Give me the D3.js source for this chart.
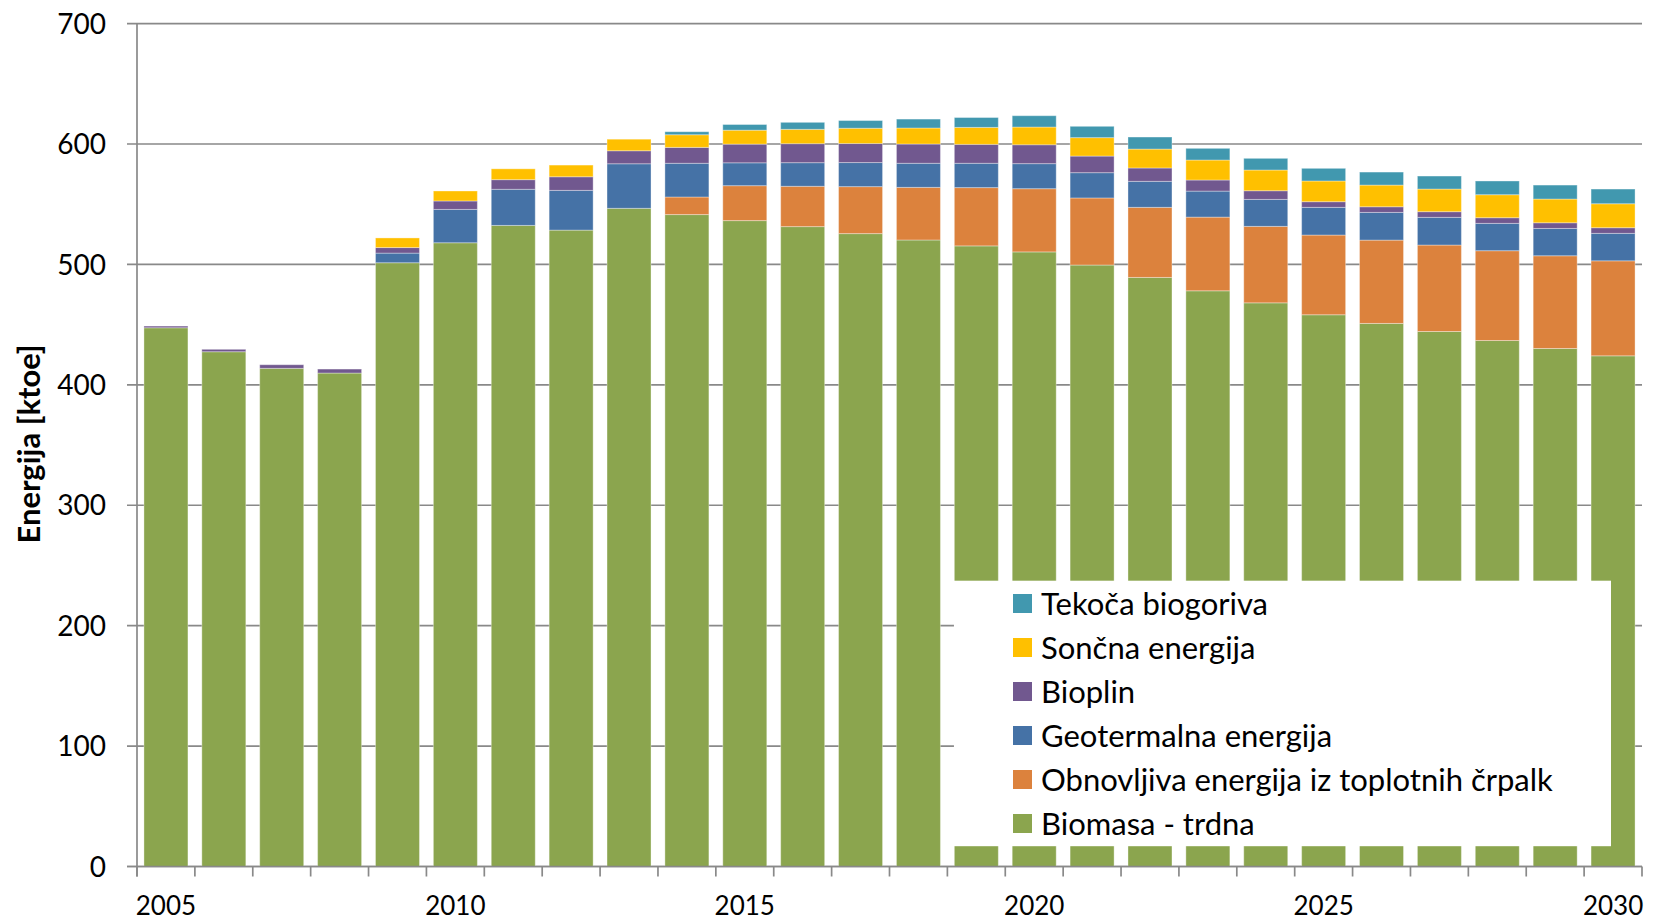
<!DOCTYPE html>
<html>
<head>
<meta charset="utf-8">
<script src="https://cdn.jsdelivr.net/npm/d3@7"></script>
<style>
  html, body { margin: 0; padding: 0; background: #fff; }
  svg { display: block; }
  text { font-family: Lato, "Open Sans", sans-serif; fill: #000; }
</style>
</head>
<body>
<svg id="chart" width="1659" height="921"></svg>
<script>
const years = d3.range(2005, 2031);
const tickYears = [2005, 2010, 2015, 2020, 2025, 2030];
const yTicks = [0, 100, 200, 300, 400, 500, 600, 700];

const biomasa     = [447.4, 427.5, 413.7, 409.8, 501.4, 518.0, 532.4, 528.5, 546.6, 541.4, 536.4, 531.4, 525.6, 520.3, 515.4, 510.4, 499.5, 489.2, 478.1, 468.1, 458.2, 451.0, 444.3, 436.8, 430.2, 424.1];
const toplotne    = [0, 0, 0, 0, 0, 0, 0, 0, 0, 14.6, 29.0, 33.5, 39.0, 43.7, 48.4, 52.5, 55.7, 58.2, 61.2, 63.5, 66.2, 69.2, 71.8, 74.6, 77.0, 78.9];
const geotermalna = [0, 0, 0, 0, 8.0, 27.7, 30.0, 33.0, 37.0, 28.0, 19.0, 19.6, 20.0, 20.0, 20.2, 20.8, 21.0, 21.6, 21.6, 22.4, 23.0, 23.0, 23.0, 22.7, 22.7, 22.8];
const bioplin     = [1.4, 2.0, 3.0, 3.3, 4.6, 7.0, 8.0, 11.3, 10.8, 13.2, 15.5, 15.8, 15.8, 16.0, 15.7, 15.7, 13.8, 11.1, 9.2, 7.2, 4.7, 4.7, 4.7, 4.7, 4.7, 4.7];
const soncna      = [0, 0, 0, 0, 8.0, 8.3, 9.0, 9.7, 9.6, 10.5, 11.6, 11.9, 12.7, 13.3, 14.1, 14.7, 15.3, 15.7, 16.6, 17.2, 17.2, 18.0, 18.8, 19.1, 19.7, 19.9];
const tekoca      = [0, 0, 0, 0, 0, 0, 0, 0, 0, 2.5, 4.7, 5.8, 6.4, 7.4, 8.2, 9.4, 9.4, 10.0, 9.7, 9.7, 10.5, 10.8, 10.8, 11.4, 11.6, 12.2];

const seriesNames = ["Biomasa - trdna", "Obnovljiva energija iz toplotnih črpalk", "Geotermalna energija", "Bioplin", "Sončna energija", "Tekoča biogoriva"];
const seriesKeys = ["biomasa", "toplotne", "geotermalna", "bioplin", "soncna", "tekoca"];
const seriesColors = ["#8BA54E", "#DC823D", "#4572A6", "#71588F", "#FFC000", "#4198AF"];
const yLabel = "Energija [ktoe]";

const rows = years.map((y, i) => ({
  year: y, biomasa: biomasa[i], toplotne: toplotne[i], geotermalna: geotermalna[i],
  bioplin: bioplin[i], soncna: soncna[i], tekoca: tekoca[i]
}));

const svg = d3.select("#chart");
const L = 137, R = 1642, T = 23.6, B = 866.5;

const x = d3.scaleBand().domain(years).range([L, R]).paddingInner(0.24).paddingOuter(0.12);
const y = d3.scaleLinear().domain([0, 700]).range([B, T]);

// gridlines
svg.append("g").selectAll("line").data(yTicks).join("line")
  .attr("x1", L - 10).attr("x2", R)
  .attr("y1", d => y(d)).attr("y2", d => y(d))
  .attr("stroke", "#898989").attr("stroke-width", 1.7);

// stacked bars
const stack = d3.stack().keys(seriesKeys);
const stacked = stack(rows);
const gBars = svg.append("g");
stacked.forEach((layer, li) => {
  gBars.append("g").attr("fill", seriesColors[li])
    .selectAll("rect").data(layer.filter(d => d[1] - d[0] > 0)).join("rect")
    .attr("x", d => x(d.data.year))
    .attr("width", x.bandwidth())
    .attr("y", d => y(d[1]))
    .attr("height", d => y(d[0]) - y(d[1]))
    .attr("stroke", "rgba(255,255,255,0.35)").attr("stroke-width", 1);
});

// y axis line
svg.append("line").attr("x1", L).attr("x2", L).attr("y1", T).attr("y2", B + 10)
  .attr("stroke", "#898989").attr("stroke-width", 1.7);
// x axis line
svg.append("line").attr("x1", L - 10).attr("x2", R).attr("y1", B).attr("y2", B)
  .attr("stroke", "#898989").attr("stroke-width", 1.7);

// x tick marks at band boundaries
const step = x.step();
const boundaries = years.map(yr => x(yr) - x.paddingOuter() * step).concat([R]);
svg.append("g").selectAll("line").data(boundaries).join("line")
  .attr("x1", d => d).attr("x2", d => d).attr("y1", B).attr("y2", B + 10)
  .attr("stroke", "#898989").attr("stroke-width", 1.7);

// y tick labels
svg.append("g").selectAll("text").data(yTicks).join("text")
  .attr("x", 106).attr("y", d => y(d))
  .attr("dy", "0.36em")
  .attr("text-anchor", "end")
  .style("font-size", "28px")
  .text(d => d);

// x tick labels
svg.append("g").selectAll("text").data(tickYears).join("text")
  .attr("x", d => x(d) + x.bandwidth() / 2).attr("y", 915)
  .attr("text-anchor", "middle")
  .style("font-size", "26px")
  .text(d => d);

// y label
svg.append("text")
  .attr("transform", "translate(40,444) rotate(-90)")
  .attr("text-anchor", "middle")
  .style("font-size", "31px").style("font-weight", "bold")
  .text(yLabel);

// legend
const lg = svg.append("g");
lg.append("rect").attr("x", 954).attr("y", 580.7).attr("width", 657).attr("height", 265.5).attr("fill", "#fff");
const order = [5, 4, 3, 2, 1, 0];
order.forEach((si, k) => {
  const cy = 603.5 + k * 44;
  lg.append("rect").attr("x", 1013).attr("y", cy - 9.5).attr("width", 19).attr("height", 19).attr("fill", seriesColors[si]);
  lg.append("text").attr("x", 1041).attr("y", cy).attr("dy", "0.36em")
    .style("font-size", "31px").text(seriesNames[si]);
});
</script>
</body>
</html>
